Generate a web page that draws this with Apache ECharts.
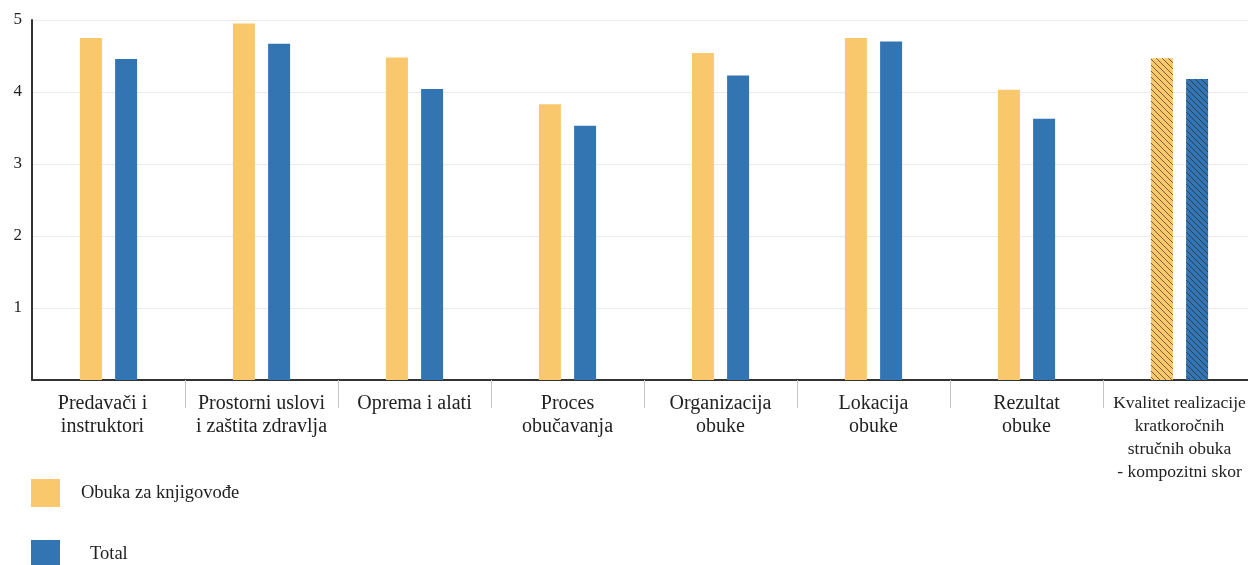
<!DOCTYPE html>
<html>
<head>
<meta charset="utf-8">
<script src="https://cdn.jsdelivr.net/npm/echarts@6/dist/echarts.min.js"></script>
<style>
  html, body { margin: 0; padding: 0; background: #fff; overflow: hidden; }
  #chart { width: 1256px; height: 565px; }
</style>
</head>
<body>
<div id="chart"></div>
<script>
// Training evaluation scores by dimension (scale 1–5)
const categories = [
  'Predavači i\ninstruktori',
  'Prostorni uslovi\ni zaštita zdravlja',
  'Oprema i alati',
  'Proces\nobučavanja',
  'Organizacija\nobuke',
  'Lokacija\nobuke',
  'Rezultat\nobuke',
  'Kvalitet realizacije\nkratkoročnih\nstručnih obuka\n- kompozitni skor'
];
const seriesNames = ['Obuka za knjigovođe', 'Total'];
const knjigovodjeValues = [4.75, 4.95, 4.48, 3.83, 4.54, 4.75, 4.03, 4.47];
const totalValues = [4.46, 4.67, 4.04, 3.53, 4.23, 4.70, 3.63, 4.18];
const yTicks = [0, 1, 2, 3, 4, 5];

const YELLOW = '#F9C86C';
const BLUE = '#3275B2';
const FONT = '"Liberation Serif", "Times New Roman", serif';

// Repeating tile with a "\" diagonal stroke, used to hatch the composite score bars
function hatchTile(base) {
  const s = 6;
  const c = document.createElement('canvas');
  c.width = s; c.height = s;
  const g = c.getContext('2d');
  g.fillStyle = base;
  g.fillRect(0, 0, s, s);
  g.strokeStyle = 'rgba(35, 30, 25, 0.6)';
  g.lineWidth = 1;
  g.beginPath();
  g.moveTo(-1, -1); g.lineTo(s + 1, s + 1);
  g.moveTo(-1, s - 1); g.lineTo(1, s + 1);
  g.moveTo(s - 1, -1); g.lineTo(s + 1, 1);
  g.stroke();
  return { image: c, repeat: 'repeat' };
}

function toData(values, base) {
  return values.map((v, i) =>
    i === values.length - 1 ? { value: v, itemStyle: { color: hatchTile(base) } } : v
  );
}

function legendFor(name, top, indent) {
  return {
    orient: 'vertical',
    left: 31,
    top: top,
    padding: 0,
    itemWidth: 29,
    itemHeight: 28,
    icon: 'rect',
    data: [name],
    textStyle: {
      fontFamily: FONT,
      fontSize: 18.5,
      color: '#222',
      padding: [2, 0, 0, indent]
    }
  };
}

// Wrap every line of a label in one rich-text style
function wrapLines(v, style) {
  return '{' + style + '|' + v.split('\n').join('}\n{' + style + '|') + '}';
}

const chart = echarts.init(document.getElementById('chart'), null, { renderer: 'canvas' });
chart.setOption({
  animation: false,
  aria: { enabled: false },
  grid: { left: 32, top: 20, width: 1224, height: 360, containLabel: false },
  legend: [
    legendFor(seriesNames[0], 479, 16),
    legendFor(seriesNames[1], 540, 25)
  ],
  xAxis: {
    type: 'category',
    data: categories,
    axisLine: { show: true, lineStyle: { color: '#333', width: 2 } },
    axisTick: {
      show: true,
      length: 28,
      interval: (idx) => idx !== 0,
      lineStyle: { color: '#c4c4c4', width: 1 }
    },
    axisLabel: {
      interval: 0,
      margin: 12,
      fontFamily: FONT,
      fontSize: 20,
      lineHeight: 23,
      color: '#222',
      align: 'center',
      formatter: (v, i) => {
        if (i === 0) return wrapLines(v, 'a');
        if (i === categories.length - 1) return wrapLines(v, 'c');
        return v;
      },
      rich: {
        a: { fontFamily: FONT, fontSize: 20, lineHeight: 23, color: '#222', padding: [0, 12, 0, 0] },
        c: { fontFamily: FONT, fontSize: 17.5, lineHeight: 23, color: '#222' }
      }
    }
  },
  yAxis: {
    type: 'value',
    min: yTicks[0],
    max: yTicks[yTicks.length - 1],
    interval: 1,
    axisLine: { show: true, lineStyle: { color: '#333', width: 2 } },
    axisTick: { show: false },
    splitLine: { show: true, lineStyle: { color: '#ececec', width: 1 } },
    axisLabel: {
      margin: 10,
      fontFamily: FONT,
      fontSize: 17,
      color: '#222',
      formatter: v => (v === 0 ? '' : String(v))
    }
  },
  series: [
    {
      name: seriesNames[0],
      type: 'bar',
      barWidth: 22,
      barGap: '60%',
      itemStyle: { color: YELLOW },
      data: toData(knjigovodjeValues, YELLOW)
    },
    {
      name: seriesNames[1],
      type: 'bar',
      barWidth: 22,
      barGap: '60%',
      itemStyle: { color: BLUE },
      data: toData(totalValues, BLUE)
    }
  ]
});
</script>
</body>
</html>
